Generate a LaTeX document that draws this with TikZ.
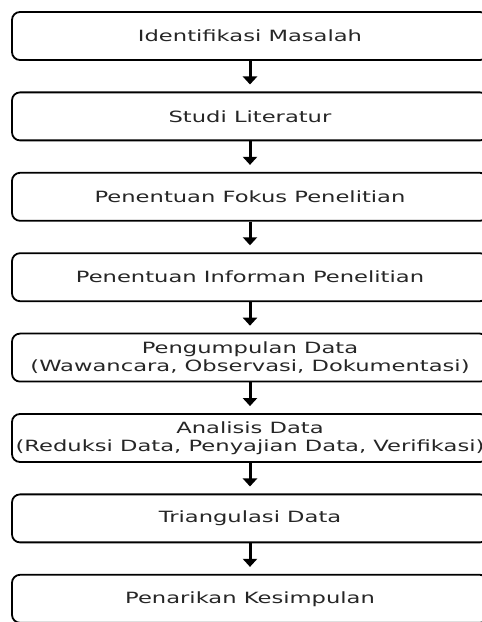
\documentclass[tikz,border=0pt]{standalone}
\usepackage{fontspec}
\setmainfont{DejaVu Sans}[FakeStretch=1.46]
\usepackage{tikz}
\usetikzlibrary{chains,positioning,arrows.meta}

\begin{document}
\begin{tikzpicture}[x=1pt,y=1pt]

    % boxes overflow the right and bottom border, so clip like the scan
    \useasboundingbox (0,0) rectangle (482,622);
    \clip (0,0) rectangle (482,622);

    \tikzstyle{stepbox}=[draw,rounded corners=8pt,line width=1.8pt,minimum width=476pt,minimum height=48pt,inner ysep=1pt,align=center,font=\fontsize{15.5}{18.5}\selectfont,text=black!85]
    \tikzstyle{steparrow}=[line width=3pt,-{Triangle[width=14pt,length=8pt]},shorten >=7pt]

    \begin{scope}[start chain=1 going below,node distance=80.4pt,on grid]
        \node [on chain=1,stepbox] at (250,586) (masalah) {Identifikasi Masalah};
        \node [on chain=1,stepbox] (literatur) {Studi Literatur};
        \node [on chain=1,stepbox] (fokus) {Penentuan Fokus Penelitian};
        \node [on chain=1,stepbox] (informan) {Penentuan Informan Penelitian};
        \node [on chain=1,stepbox] (pengumpulan) {Pengumpulan Data\\(Wawancara, Observasi, Dokumentasi)};
        \node [on chain=1,stepbox] (analisis) {Analisis Data\\\makebox[0pt]{(Reduksi Data, Penyajian Data, Verifikasi)}};
        \node [on chain=1,stepbox] (triangulasi) {Triangulasi Data};
        \node [on chain=1,stepbox] (kesimpulan) {Penarikan Kesimpulan};
    \end{scope}

    \draw[steparrow] (masalah) -- (literatur);
    \draw[steparrow] (literatur) -- (fokus);
    \draw[steparrow] (fokus) -- (informan);
    \draw[steparrow] (informan) -- (pengumpulan);
    \draw[steparrow] (pengumpulan) -- (analisis);
    \draw[steparrow] (analisis) -- (triangulasi);
    \draw[steparrow] (triangulasi) -- (kesimpulan);

\end{tikzpicture}
\end{document}
